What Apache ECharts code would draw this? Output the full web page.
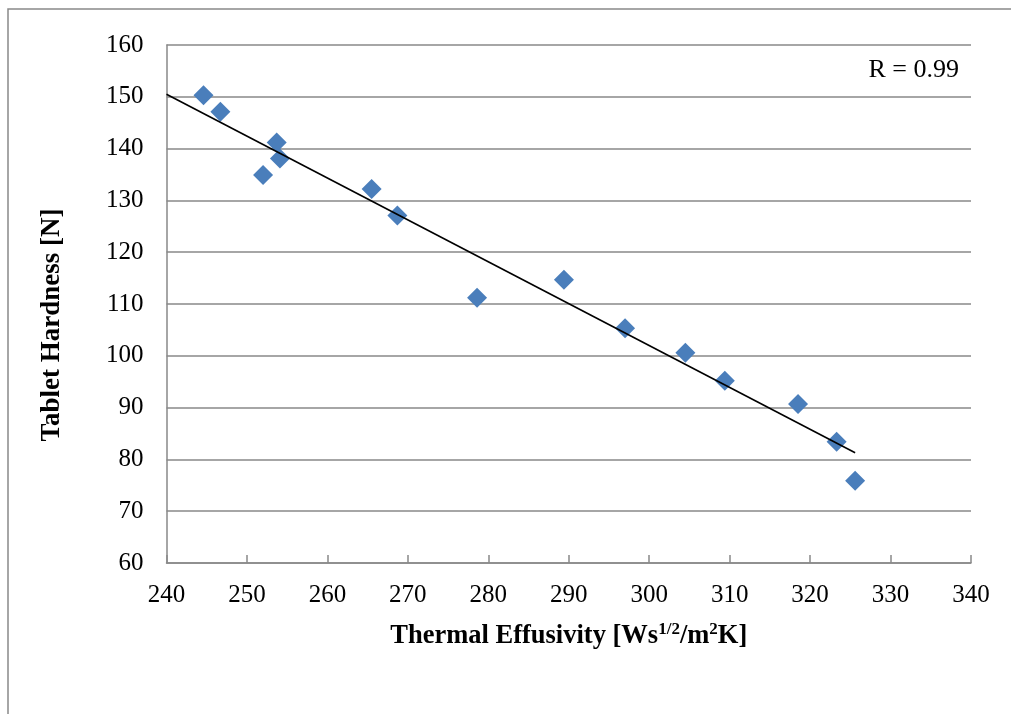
<!DOCTYPE html>
<html>
<head>
<meta charset="utf-8">
<script src="https://cdn.jsdelivr.net/npm/echarts@6/dist/echarts.min.js"></script>
<style>
  html, body { margin: 0; padding: 0; background: #fff; }
  #chart { width: 1011px; height: 714px; }
</style>
</head>
<body>
<div id="chart"></div>
<script>
// Thermal effusivity of each tablet batch [Ws^1/2/m^2K]
const effusivity = [244.6, 246.7, 253.7, 254.1, 252.0, 265.5, 268.7, 278.6, 289.4, 297.0, 304.5, 309.4, 318.5, 323.3, 325.6];
// Measured tablet hardness [N]
const hardness   = [150.3, 147.1, 141.2, 138.1, 134.9, 132.2, 127.1, 111.2, 114.7, 105.3, 100.6, 95.2, 90.7, 83.4, 75.9];
// Linear trend line end points (x, y)
const trendX = [240, 325.6];
const trendY = [150.5, 81.3];
const rLabel = 'R = 0.99';
const yTitle = 'Tablet Hardness [N]';
const xTicks = { min: 240, max: 340, interval: 10 };
const yTicks = { min: 60, max: 160, interval: 10 };

const points = effusivity.map((x, i) => [x, hardness[i]]);
const trend = trendX.map((x, i) => [x, trendY[i]]);

const serif = '"Liberation Serif", "Times New Roman", serif';
const gray = '#898989';

const chart = echarts.init(document.getElementById('chart'), null, { renderer: 'canvas' });
chart.setOption({
  animation: false,
  backgroundColor: '#fff',
  grid: { left: 166.5, top: 45, right: 40, bottom: 151, containLabel: false },
  xAxis: {
    type: 'value',
    min: xTicks.min, max: xTicks.max, interval: xTicks.interval,
    name: '{b|Thermal Effusivity [Ws}{s|1/2}{b|/m}{s|2}{b|K]}',
    nameLocation: 'middle',
    nameGap: 57,
    nameTextStyle: {
      rich: {
        b: { fontFamily: serif, fontWeight: 'bold', fontSize: 26.5, color: '#000', lineHeight: 32 },
        s: { fontFamily: serif, fontWeight: 'bold', fontSize: 17, color: '#000', lineHeight: 32, padding: [0, 0, 13, 0] }
      }
    },
    axisLine: { show: true, lineStyle: { color: gray, width: 1.5 } },
    axisTick: { show: true, inside: true, length: 8, lineStyle: { color: gray, width: 1.5 } },
    axisLabel: { fontFamily: serif, fontSize: 25, color: '#000', margin: 20 },
    splitLine: { show: false }
  },
  yAxis: {
    type: 'value',
    min: yTicks.min, max: yTicks.max, interval: yTicks.interval,
    axisLine: { show: true, lineStyle: { color: gray, width: 1.5 } },
    axisTick: { show: false },
    axisLabel: { fontFamily: serif, fontSize: 25, color: '#000', margin: 23 },
    splitLine: { show: true, lineStyle: { color: gray, width: 1.5 } }
  },
  series: [
    {
      type: 'line',
      data: trend,
      symbol: 'none',
      silent: true,
      lineStyle: { color: '#000', width: 1.6 },
      z: 3
    },
    {
      type: 'scatter',
      data: points,
      symbol: 'diamond',
      symbolSize: [20, 20],
      itemStyle: { color: '#4A7EBB', opacity: 1 },
      z: 2
    }
  ],
  graphic: [
    {
      type: 'rect',
      shape: { x: 8, y: 9, width: 1100, height: 800 },
      style: { fill: 'none', stroke: gray, lineWidth: 1.5 },
      silent: true,
      z: -10
    },
    {
      type: 'text',
      x: 52, y: 325,
      rotation: Math.PI / 2,
      style: {
        text: yTitle,
        font: 'bold 27px ' + serif,
        fill: '#000',
        align: 'center',
        verticalAlign: 'middle'
      },
      silent: true
    },
    {
      type: 'text',
      x: 959, y: 70,
      style: {
        text: rLabel,
        font: '26px ' + serif,
        fill: '#000',
        align: 'right',
        verticalAlign: 'middle'
      },
      silent: true
    }
  ]
});
</script>
</body>
</html>
